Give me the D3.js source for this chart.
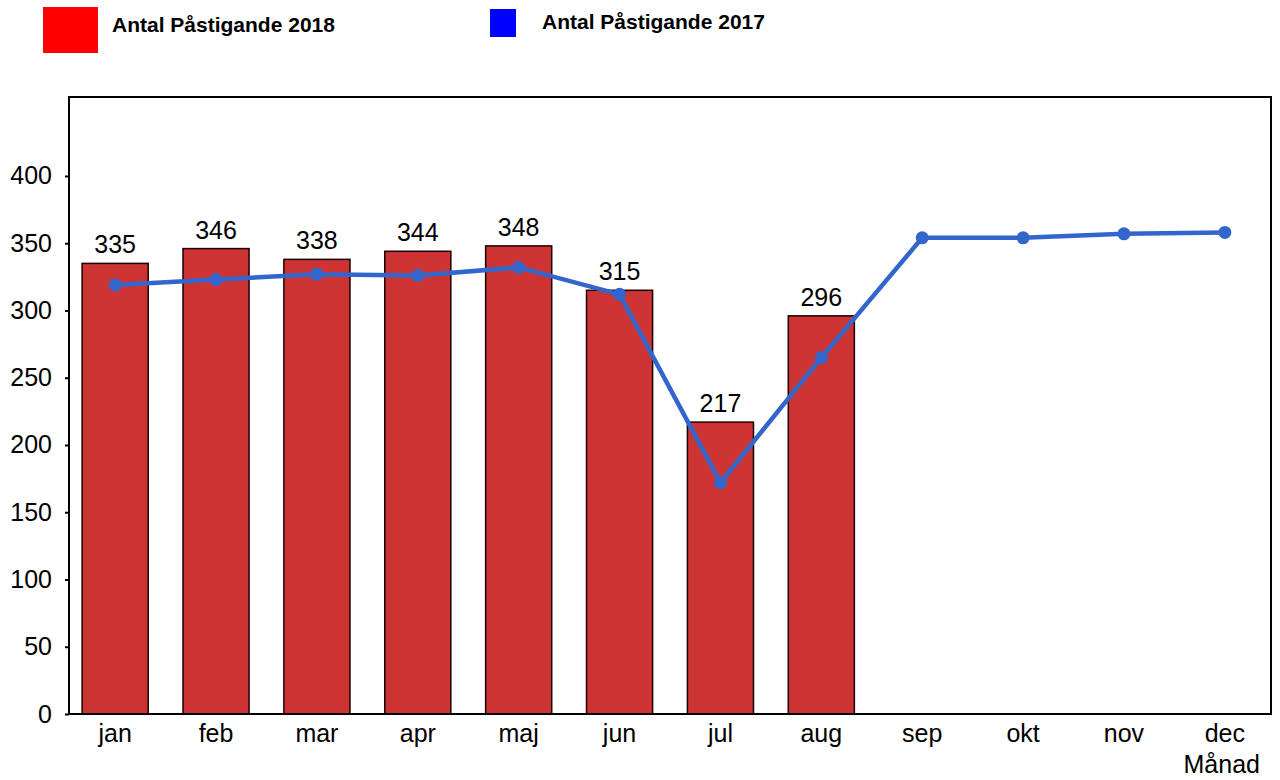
<!DOCTYPE html>
<html>
<head>
<meta charset="utf-8">
<script src="https://cdn.jsdelivr.net/npm/d3@7"></script>
<style>
  body { margin: 0; background: #fff; }
  text { font-family: "Liberation Sans", Arial, sans-serif; }
</style>
</head>
<body>
<svg id="chart" width="1280" height="780"></svg>
<script>
const months = ["jan", "feb", "mar", "apr", "maj", "jun", "jul", "aug", "sep", "okt", "nov", "dec"];
const values2018 = [335, 346, 338, 344, 348, 315, 217, 296];
const values2017 = [319, 323, 327, 326, 332, 312, 172, 265, 354, 354, 357, 358];
const yTicks = [0, 50, 100, 150, 200, 250, 300, 350, 400];

const svg = d3.select("#chart");
const plotLeft = 69, plotRight = 1271, plotTop = 97, plotBottom = 714;
const labelSize = 25;

const x = d3.scaleBand()
  .domain(months)
  .range([plotLeft, plotRight])
  .paddingInner(0.345)
  .paddingOuter(0.13);

const y = d3.scaleLinear()
  .domain([0, 458.7])
  .range([plotBottom, plotTop]);

// bars
svg.selectAll(".bar")
  .data(values2018)
  .enter()
  .append("rect")
  .attr("class", "bar")
  .attr("x", (d, i) => x(months[i]))
  .attr("y", d => y(d))
  .attr("width", x.bandwidth())
  .attr("height", d => y(0) - y(d))
  .attr("fill", "#cc3333")
  .attr("stroke", "#1a0000")
  .attr("stroke-width", 1.5);

svg.selectAll(".barlabel")
  .data(values2018)
  .enter()
  .append("text")
  .attr("x", (d, i) => x(months[i]) + x.bandwidth() / 2)
  .attr("y", d => y(d) - 10)
  .attr("text-anchor", "middle")
  .attr("font-size", labelSize)
  .text(d => d);

// line 2017
const line = d3.line()
  .x((d, i) => x(months[i]) + x.bandwidth() / 2)
  .y(d => y(d));

svg.append("path")
  .datum(values2017)
  .attr("d", line)
  .attr("fill", "none")
  .attr("stroke", "#3366cc")
  .attr("stroke-width", 4.5);

svg.selectAll(".pt")
  .data(values2017)
  .enter()
  .append("circle")
  .attr("cx", (d, i) => x(months[i]) + x.bandwidth() / 2)
  .attr("cy", d => y(d))
  .attr("r", 6.5)
  .attr("fill", "#3366cc");

// frame
svg.append("rect")
  .attr("x", plotLeft)
  .attr("y", plotTop)
  .attr("width", plotRight - plotLeft)
  .attr("height", plotBottom - plotTop)
  .attr("fill", "none")
  .attr("stroke", "#000")
  .attr("stroke-width", 2);

// y axis
const yAxis = svg.append("g")
  .attr("transform", `translate(${plotLeft},0)`)
  .call(d3.axisLeft(y).tickValues(yTicks).tickSize(4).tickPadding(13));
yAxis.select(".domain").remove();
yAxis.selectAll("line").attr("stroke", "#000").attr("stroke-width", 2);
yAxis.selectAll("text")
  .attr("font-size", labelSize)
  .attr("font-family", "Liberation Sans, Arial, sans-serif")
  .attr("fill", "#000");

// x axis
const xAxis = svg.append("g")
  .attr("transform", `translate(0,${plotBottom})`)
  .call(d3.axisBottom(x).tickSize(0).tickPadding(10));
xAxis.select(".domain").remove();
xAxis.selectAll("text")
  .attr("font-size", labelSize)
  .attr("font-family", "Liberation Sans, Arial, sans-serif")
  .attr("fill", "#000");

svg.append("text")
  .attr("x", 1260)
  .attr("y", 773)
  .attr("text-anchor", "end")
  .attr("font-size", labelSize)
  .text("Månad");

// legend
svg.append("rect").attr("x", 43).attr("y", 7).attr("width", 55).attr("height", 46).attr("fill", "#ff0000");
svg.append("text").attr("x", 112).attr("y", 32).attr("font-size", 21).attr("font-weight", "bold")
  .text("Antal Påstigande 2018");
svg.append("rect").attr("x", 490).attr("y", 9).attr("width", 26).attr("height", 28).attr("fill", "#0000ff");
svg.append("text").attr("x", 542).attr("y", 29).attr("font-size", 21).attr("font-weight", "bold")
  .text("Antal Påstigande 2017");
</script>
</body>
</html>
